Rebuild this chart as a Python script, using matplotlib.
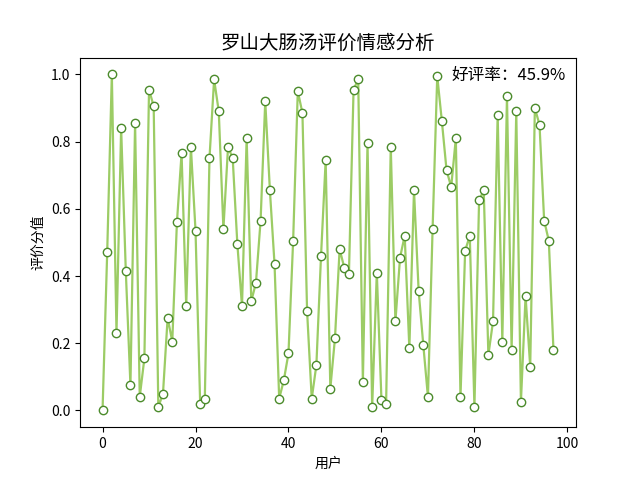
import matplotlib
matplotlib.use('Agg')
import matplotlib.pyplot as plt

plt.rcParams['font.family'] = ['Noto Sans CJK SC', 'DejaVu Sans']
plt.rcParams['axes.unicode_minus'] = False

# sentiment score for each user
scores = [0.0, 0.47, 1.0, 0.23, 0.84, 0.415, 0.075, 0.855, 0.04, 0.155,
          0.955, 0.905, 0.01, 0.05, 0.275, 0.205, 0.56, 0.765, 0.31, 0.785,
          0.535, 0.02, 0.035, 0.75, 0.985, 0.89, 0.54, 0.785, 0.75, 0.495,
          0.31, 0.81, 0.325, 0.38, 0.565, 0.92, 0.655, 0.435, 0.035, 0.09,
          0.17, 0.505, 0.95, 0.885, 0.295, 0.035, 0.135, 0.46, 0.745, 0.065,
          0.215, 0.48, 0.425, 0.405, 0.955, 0.985, 0.085, 0.795, 0.01, 0.41,
          0.03, 0.02, 0.785, 0.265, 0.455, 0.52, 0.185, 0.655, 0.355, 0.195,
          0.04, 0.54, 0.995, 0.86, 0.715, 0.665, 0.81, 0.04, 0.475, 0.52,
          0.01, 0.625, 0.655, 0.165, 0.265, 0.88, 0.205, 0.935, 0.18, 0.89,
          0.025, 0.34, 0.13, 0.9, 0.85, 0.565, 0.505, 0.18]
users = list(range(len(scores)))

good = sum(1 for s in scores if s > 0.5) / len(scores)

fig = plt.figure(figsize=(6.4, 4.8), dpi=100)
plt.plot(users, scores, color='#9ccc65', linewidth=1.6,
         marker='o', markersize=6, markerfacecolor='white',
         markeredgecolor='#4b8b2b', markeredgewidth=1.0)
plt.title('罗山大肠汤评价情感分析', fontsize=14)
plt.xlabel('用户')
plt.ylabel('评价分值')
plt.text(0.98, 0.975, '好评率：%.1f%%' % (good * 100), transform=plt.gca().transAxes,
         ha='right', va='top', fontsize=12)

plt.savefig('out.png', dpi=100)
